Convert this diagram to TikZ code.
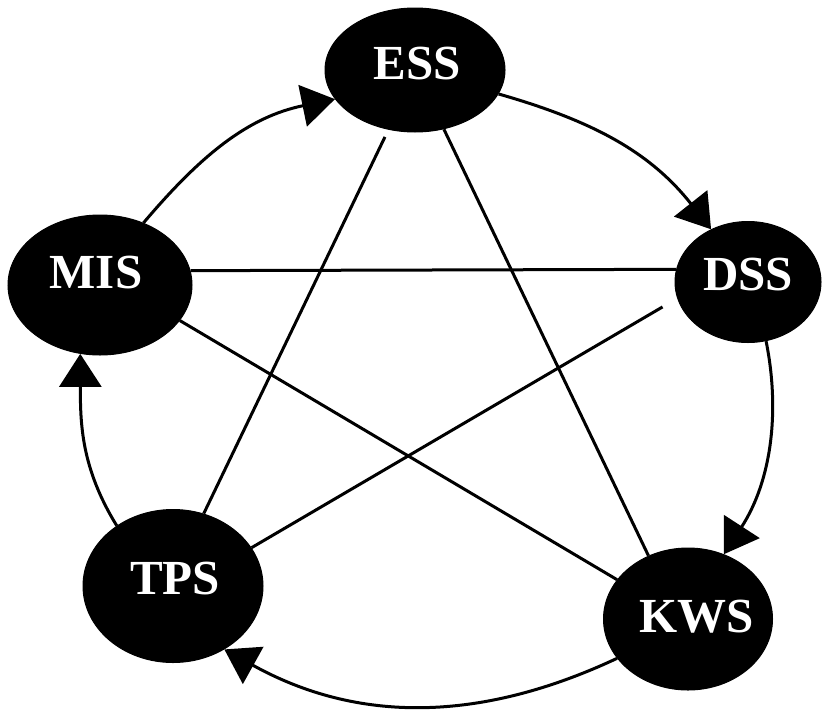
\documentclass[tikz,border=0pt]{standalone}
\usepackage{fontspec}
\setmainfont{Liberation Serif}
\usetikzlibrary{shapes.geometric,arrows.meta}
\newcommand{\nlbl}[3]{\raisebox{#2}[0pt][0pt]{\makebox[0pt]{\hspace*{#1}#3}}}
\tikzset{
  sysnode/.style={ellipse, fill=black, draw=black, line width=1pt, inner sep=0pt,
    text=white, font=\bfseries\fontsize{49}{49}\selectfont},
  link/.style={line width=3pt, draw=black},
  flow/.style={line width=3pt, draw=black, -{Triangle[length=33pt,width=42pt]}}
}
\begin{document}
\begin{tikzpicture}[x=1pt,y=-1pt]
\useasboundingbox (0,0) rectangle (834,715);
\node[sysnode, minimum width=180pt, minimum height=124pt] (ESS) at (415,70) {\nlbl{4pt}{-9.2pt}{ESS}};
\node[sysnode, minimum width=184pt, minimum height=140pt] (MIS) at (100,285) {\nlbl{-8pt}{-3.2pt}{MIS}};
\node[sysnode, minimum width=146pt, minimum height=121pt] (DSS) at (748,282) {\nlbl{0pt}{-8.2pt}{DSS}};
\node[sysnode, minimum width=180pt, minimum height=153pt] (TPS) at (173,586) {\nlbl{4pt}{-8.2pt}{TPS}};
\node[sysnode, minimum width=169pt, minimum height=142pt] (KWS) at (688,619) {\nlbl{18pt}{-13.2pt}{KWS}};
% straight connections
\draw[link] (MIS.9.5) -- (DSS.170.5);
\draw[link] (MIS.-24.8) -- (KWS.151);
\draw[link, shorten <=8pt] (ESS.246) -- (TPS.67.7);
\draw[link] (ESS.-64.5) -- (KWS.122.6);
\draw[link, shorten >=17pt] (TPS.26) -- (DSS.193.2);
% cycle arcs
\draw[flow] (MIS.55) .. controls (201,155) and (248,117) .. (ESS.200.6);
\draw[flow] (ESS.-16) .. controls (593,121) and (650,152) .. (DSS.125);
\draw[flow] (DSS.-73) .. controls (780,410) and (772,480) .. (KWS.61);
\draw[flow] (KWS.209) .. controls (479,723) and (357,723) .. (TPS.309);
\draw[flow] (TPS.133.6) .. controls (80.7,467.2) and (80.4,422.7) .. (MIS.254);
\end{tikzpicture}
\end{document}
